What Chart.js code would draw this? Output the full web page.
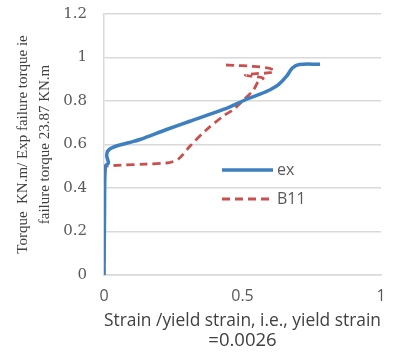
<!DOCTYPE html>
<html>
<head>
<meta charset="utf-8">
<script src="https://cdn.jsdelivr.net/npm/chart.js@4"></script>
<style>
  html, body { margin: 0; padding: 0; background: #fff; }
  #wrap { width: 395px; height: 352px; }
</style>
</head>
<body>
<div id="wrap"><canvas id="grafico"></canvas></div>
<script>
// datos
const exStrain = [0, 0.002, 0.005, 0.016, 0.01, 0.013, 0.028, 0.088, 0.13, 0.226, 0.31, 0.431, 0.515, 0.56, 0.6, 0.63, 0.66, 0.68, 0.705, 0.78];
const exTorque = [0, 0.3, 0.5, 0.515, 0.546, 0.569, 0.585, 0.608, 0.623, 0.669, 0.707, 0.761, 0.808, 0.83, 0.852, 0.875, 0.915, 0.952, 0.968, 0.969];

const b11Strain = [0, 0, 0.01, 0.06, 0.15, 0.226, 0.25, 0.274, 0.31, 0.371, 0.431, 0.467, 0.5, 0.539, 0.557, 0.575, 0.55, 0.51, 0.55, 0.6, 0.615, 0.59, 0.53, 0.47, 0.43];
const b11Torque = [0, 0.49, 0.5, 0.505, 0.51, 0.515, 0.522, 0.539, 0.592, 0.669, 0.731, 0.761, 0.8, 0.85, 0.89, 0.905, 0.912, 0.918, 0.926, 0.93, 0.94, 0.952, 0.96, 0.964, 0.966];

const xTicks = [0, 0.5, 1];
const yMin = 0, yMax = 1.2, yStep = 0.2;

const xTitle = ["Strain /yield strain, i.e., yield strain", "=0.0026"];
const yTitle = ["Torque  KN.m/ Exp failure torque ie", "failure torque 23.87 KN.m"];

function puntos(xs, ys) {
  return xs.map((x, i) => ({ x: x, y: ys[i] }));
}

function etiqueta(v) {
  return String(Math.round(v * 10) / 10);
}

// leyenda dentro del área del gráfico
const leyendaInterna = {
  id: "leyendaInterna",
  afterDraw(chart) {
    const ctx = chart.ctx;
    const x0 = 222, x1 = 273;
    const filas = [170, 199];
    ctx.save();
    chart.data.datasets.forEach((ds, i) => {
      const y = filas[i];
      ctx.beginPath();
      ctx.strokeStyle = ds.borderColor;
      ctx.lineWidth = ds.borderWidth;
      ctx.setLineDash(ds.borderDash || []);
      ctx.moveTo(x0, y);
      ctx.lineTo(x1, y);
      ctx.stroke();
      ctx.setLineDash([]);
      ctx.fillStyle = "#595959";
      ctx.font = "16px 'Open Sans'";
      ctx.textBaseline = "middle";
      ctx.textAlign = "left";
      ctx.fillText(ds.label, x1 + 4, y);
    });
    ctx.restore();
  },
};

// título del eje Y en dos líneas (serif)
const tituloY = {
  id: "tituloY",
  afterDraw(chart) {
    const ctx = chart.ctx;
    const cy = (chart.chartArea.top + chart.chartArea.bottom) / 2;
    const xs = [23, 45];
    ctx.save();
    ctx.fillStyle = "#404040";
    ctx.font = "15px 'Liberation Serif'";
    ctx.textAlign = "center";
    ctx.textBaseline = "middle";
    yTitle.forEach((t, i) => {
      ctx.save();
      ctx.translate(xs[i], cy);
      ctx.rotate(-Math.PI / 2);
      ctx.fillText(t, 0, 0);
      ctx.restore();
    });
    ctx.restore();
  },
};

const ctx = document.getElementById("grafico").getContext("2d");
new Chart(ctx, {
  type: "scatter",
  data: {
    datasets: [
      {
        label: "ex",
        data: puntos(exStrain, exTorque),
        showLine: true,
        borderColor: "#3d7fbf",
        backgroundColor: "#3d7fbf",
        borderWidth: 3.5,
        pointRadius: 0,
        tension: 0.3,
      },
      {
        label: "B11",
        data: puntos(b11Strain, b11Torque),
        showLine: true,
        borderColor: "#c9504f",
        backgroundColor: "#c9504f",
        borderWidth: 2.8,
        borderDash: [8, 5],
        pointRadius: 0,
        tension: 0.3,
      },
    ],
  },
  options: {
    responsive: true,
    maintainAspectRatio: false,
    animation: false,
    layout: { padding: { left: 0, top: 14, right: 14, bottom: 0 } },
    plugins: {
      legend: { display: false },
      tooltip: { enabled: false },
    },
    scales: {
      x: {
        type: "linear",
        min: 0,
        max: 1,
        afterBuildTicks: (axis) => {
          axis.ticks = xTicks.map((v) => ({ value: v }));
        },
        grid: { display: false, drawTicks: false },
        border: { display: true, color: "#d9d9d9", width: 1.5 },
        ticks: {
          color: "#595959",
          font: { family: "'Open Sans'", size: 16 },
          padding: 12,
          callback: etiqueta,
        },
        title: {
          display: true,
          text: xTitle,
          color: "#404040",
          font: { family: "'Open Sans'", size: 18.5, lineHeight: 1.08 },
          padding: { top: 2, bottom: 1 },
        },
        afterFit: (scale) => {
          scale.height = 77;
          scale.paddingLeft = 0;
          scale.paddingRight = 0;
        },
      },
      y: {
        min: yMin,
        max: yMax,
        ticks: {
          stepSize: yStep,
          color: "#595959",
          font: { family: "'DejaVu Serif'", size: 15 },
          padding: 17,
          callback: etiqueta,
        },
        grid: { color: "#d9d9d9", lineWidth: 1.5, drawTicks: false },
        border: { display: true, color: "#d9d9d9", width: 1.5 },
        afterFit: (scale) => {
          scale.width = 104;
          scale.paddingTop = 0;
          scale.paddingBottom = 0;
        },
      },
    },
  },
  plugins: [leyendaInterna, tituloY],
});
</script>
</body>
</html>
